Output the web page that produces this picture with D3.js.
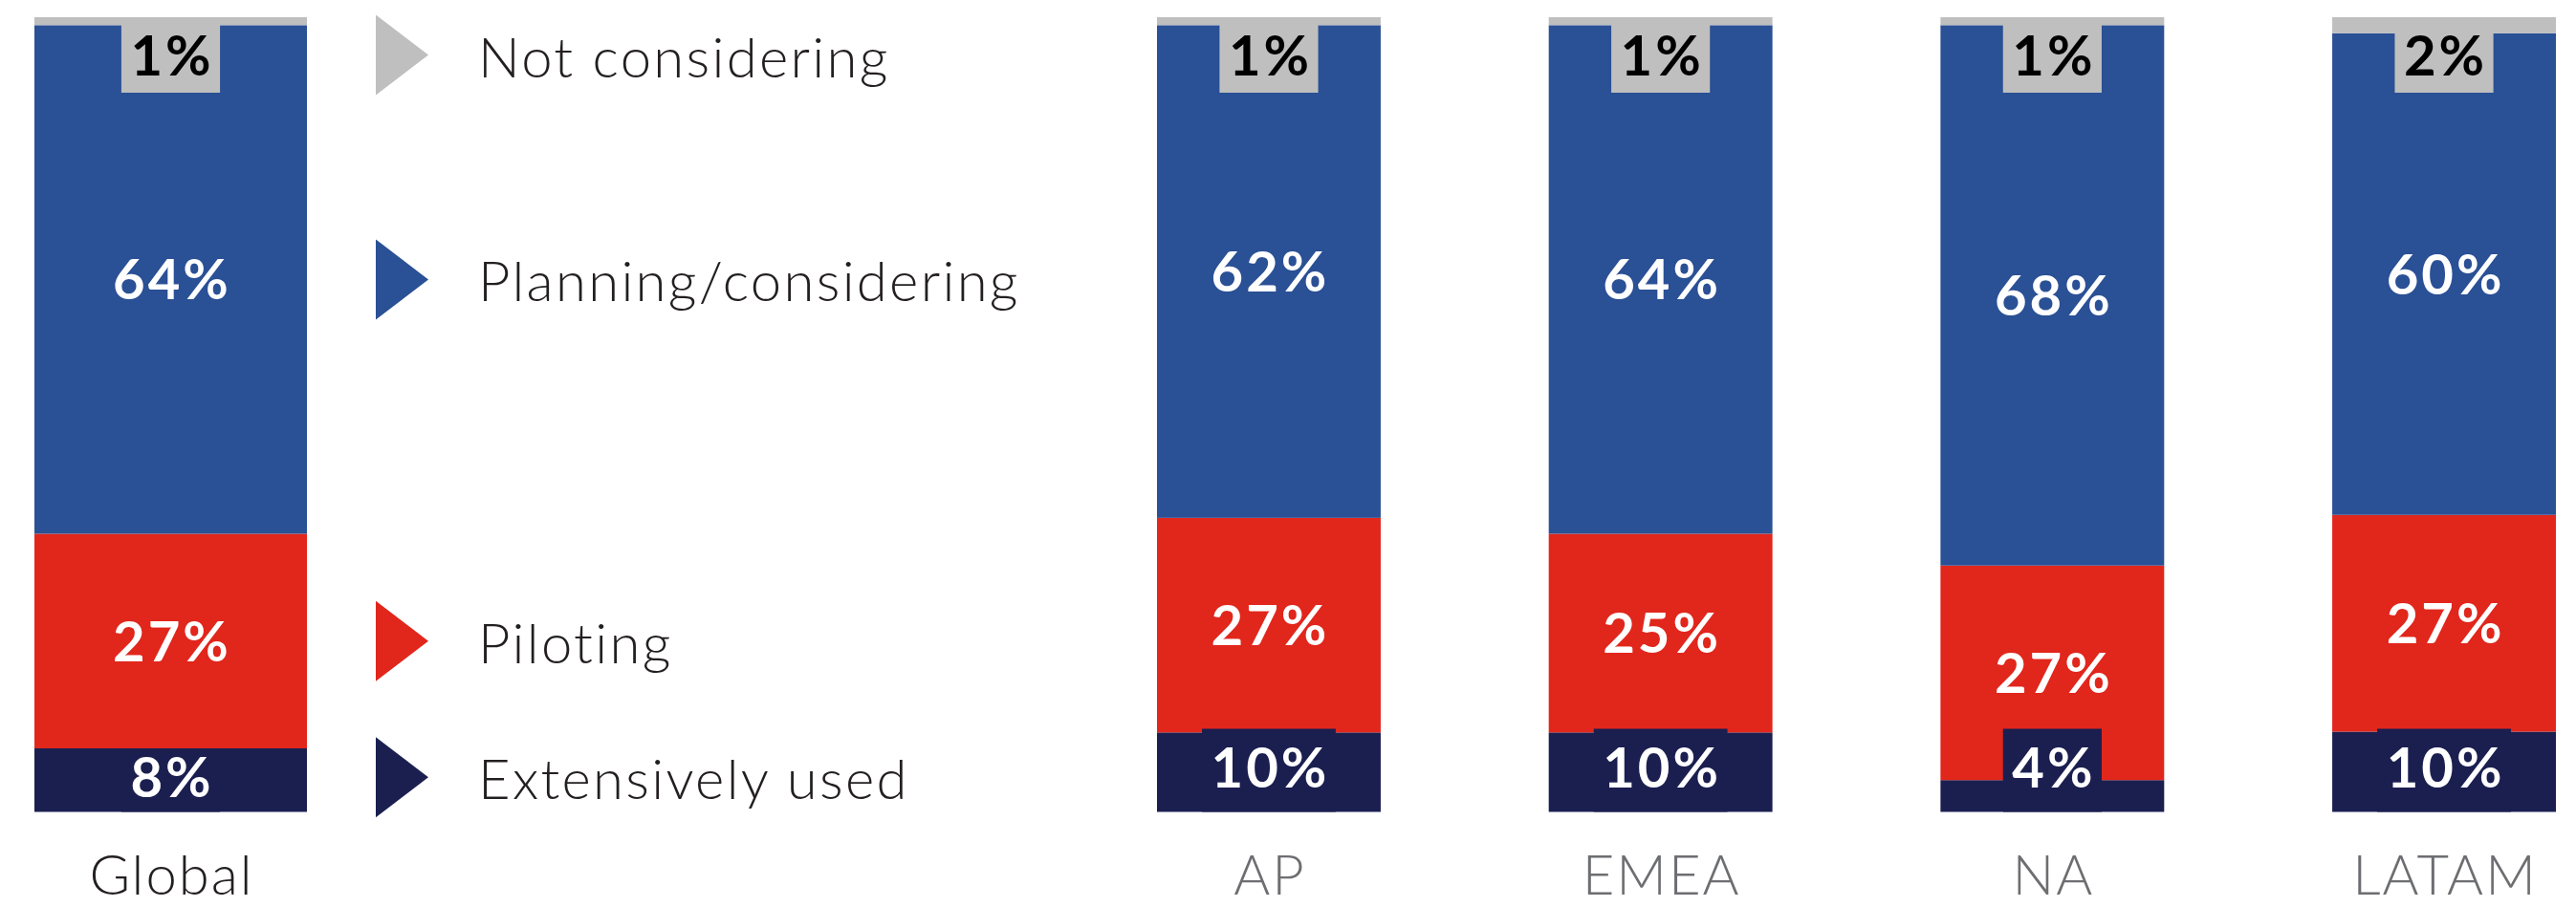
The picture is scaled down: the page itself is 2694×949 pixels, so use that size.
<!DOCTYPE html>
<html>
<head>
<meta charset="utf-8">
<script src="https://cdn.jsdelivr.net/npm/d3@7"></script>
<style>
  html, body { margin: 0; padding: 0; background: #fff; }
  svg { display: block; }
  text { font-family: Lato, "Open Sans", sans-serif; }
</style>
</head>
<body>
<svg id="chart" width="2694" height="949"></svg>
<script>
// data (percent of respondents)
var categories = ["Global", "AP", "EMEA", "NA", "LATAM"];
var seriesNames = ["Extensively used", "Piloting", "Planning/considering", "Not considering"];
var extensivelyUsed = [8, 10, 10, 4, 10];
var piloting = [27, 27, 25, 27, 27];
var planning = [64, 62, 64, 68, 60];
var notConsidering = [1, 1, 1, 1, 2];

var svg = d3.select("#chart"),
    width = +svg.attr("width"),
    height = +svg.attr("height");

var color = d3.scaleOrdinal()
  .domain(seriesNames)
  .range(["#1b1f50", "#e1261c", "#2a5095", "#bfbfbf"]);

var labelColor = d3.scaleOrdinal()
  .domain(seriesNames)
  .range(["#ffffff", "#ffffff", "#ffffff", "#000000"]);

var rows = categories.map(function(c, i) {
  var r = { category: c };
  r["Extensively used"] = extensivelyUsed[i];
  r["Piloting"] = piloting[i];
  r["Planning/considering"] = planning[i];
  r["Not considering"] = notConsidering[i];
  return r;
});

// bars fill the whole height, so stack as shares
var stacked = d3.stack()
  .keys(seriesNames)
  .offset(d3.stackOffsetExpand)(rows);

var y = d3.scaleLinear().domain([0, 1]).range([849.5, 18]);

var xGlobal = d3.scaleBand().domain(["Global"]).range([36, 321]).padding(0);
var xRegion = d3.scaleBand().domain(categories.slice(1)).range([1210, 2673])
  .paddingInner(0.429).paddingOuter(0);

function xOf(cat) { return cat === "Global" ? xGlobal(cat) : xRegion(cat); }
function bwOf(cat) { return cat === "Global" ? xGlobal.bandwidth() : xRegion.bandwidth(); }

var labelSize = 58, capH = 42, pad = 9.5, spacing = 3;
var topBoxH = 79, bottomBoxH = 87;

// bars
var layers = svg.append("g").selectAll("g")
  .data(stacked)
  .enter().append("g")
    .attr("fill", function(d) { return color(d.key); });

layers.selectAll("rect")
  .data(function(d) { return d; })
  .enter().append("rect")
    .attr("x", function(d) { return xOf(d.data.category); })
    .attr("y", function(d) { return y(d[1]); })
    .attr("width", function(d) { return bwOf(d.data.category); })
    .attr("height", function(d) { return y(d[0]) - y(d[1]); });

// label centers (kept so legend can line up with the Global bar)
var globalCenters = {};
var labelG = svg.append("g");

stacked.forEach(function(layer, li) {
  layer.forEach(function(d) {
    var cat = d.data.category;
    var value = d.data[layer.key];
    var top = y(d[1]), bottom = y(d[0]);
    var cx = xOf(cat) + bwOf(cat) / 2;
    var box = null, cy;
    if (li === seriesNames.length - 1) {
      box = [top, Math.max(bottom, top + topBoxH)];
      cy = (box[0] + box[1]) / 2;
    } else if (li === 0) {
      var minBox = cat === "Global" ? 0 : bottomBoxH;
      box = [Math.min(top, bottom - minBox), bottom];
      cy = (box[0] + box[1]) / 2 - 3;
    } else {
      cy = (top + bottom) / 2;
    }
    if (cat === "Global") globalCenters[layer.key] = cy;

    var g = labelG.append("g");
    var rectEl = g.append("rect").attr("fill", color(layer.key));
    var t = g.append("text")
      .attr("x", cx + spacing / 2)
      .attr("y", cy + capH / 2)
      .attr("text-anchor", "middle")
      .style("font-size", labelSize + "px")
      .style("font-weight", 700)
      .style("letter-spacing", spacing + "px")
      .attr("fill", labelColor(layer.key))
      .text(value + "%");
    if (box) {
      var w = t.node().getComputedTextLength() - spacing + pad * 2;
      rectEl.attr("x", cx - w / 2).attr("y", box[0])
        .attr("width", w).attr("height", box[1] - box[0]);
    } else {
      rectEl.remove();
    }
  });
});

// category labels
svg.append("g").selectAll("text")
  .data(categories)
  .enter().append("text")
    .attr("x", function(d) { return xOf(d) + bwOf(d) / 2 + 1; })
    .attr("y", 936)
    .attr("text-anchor", "middle")
    .style("font-size", "58px")
    .style("font-weight", 300)
    .style("letter-spacing", "2px")
    .attr("fill", function(d) { return d === "Global" ? "#231f20" : "#6d6e71"; })
    .text(function(d) { return d; });

// legend next to the Global bar
var legend = svg.append("g").selectAll("g")
  .data(seriesNames.slice().reverse())
  .enter().append("g")
    .attr("transform", function(d) { return "translate(393," + globalCenters[d] + ")"; });

legend.append("path")
  .attr("d", "M0,-42L55,0L0,42Z")
  .attr("fill", function(d) { return color(d); });

legend.append("text")
  .attr("x", 107)
  .attr("y", 23)
  .style("font-size", "58px")
  .style("font-weight", 300)
  .style("letter-spacing", "2.3px")
  .attr("fill", "#231f20")
  .text(function(d) { return d; });
</script>
</body>
</html>
